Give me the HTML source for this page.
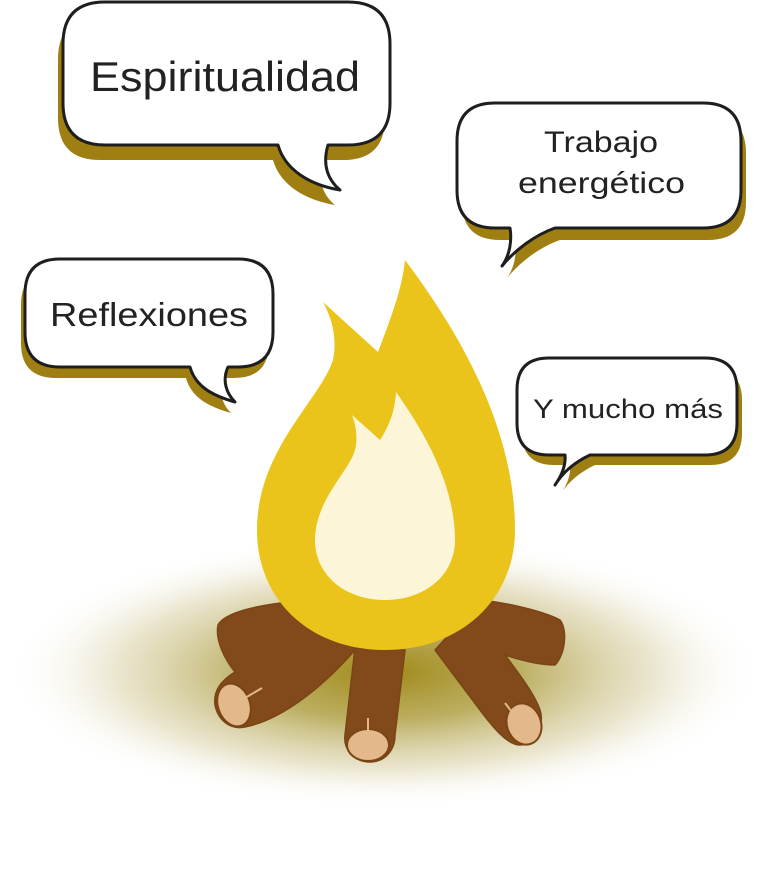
<!DOCTYPE html>
<html><head><meta charset="utf-8"><style>html,body{margin:0;padding:0;background:#fff;}svg{display:block;}</style></head><body>
<svg width="768" height="875" viewBox="0 0 768 875" xmlns="http://www.w3.org/2000/svg">
<defs>
<radialGradient id="glow" cx="385" cy="672" r="380" gradientUnits="userSpaceOnUse" gradientTransform="translate(385 672) scale(1 0.36) translate(-385 -672)">
<stop offset="0" stop-color="#a08a1a" stop-opacity="1"/>
<stop offset="0.35" stop-color="#b0a045" stop-opacity="0.85"/>
<stop offset="0.7" stop-color="#cfc590" stop-opacity="0.45"/>
<stop offset="1" stop-color="#ffffff" stop-opacity="0"/>
</radialGradient>
</defs>
<rect width="768" height="875" fill="#fff"/>
<ellipse cx="385" cy="672" rx="385" ry="140" fill="url(#glow)"/>

<!-- logs -->
<g fill="#824a1a" stroke="#7a4515" stroke-width="1.5">
<path d="M218,625 C225,612 260,605 290,602 L340,620 L355,650 C320,690 280,720 245,727 C230,730 218,720 215,705 C213,690 222,680 235,672 C225,660 215,640 218,625 Z"/>
<path d="M480,600 C510,603 545,612 560,620 C568,630 565,655 555,665 C540,665 520,660 505,655 C520,675 535,695 540,710 C545,725 535,745 520,745 C508,745 495,730 480,710 C465,690 450,670 435,650 Z"/>
<path d="M355,648 L405,650 L395,735 C395,750 385,762 370,762 C355,762 343,750 345,735 Z"/>
</g>
<g fill="#e3b88b" stroke="#7a4515" stroke-width="2">
<ellipse cx="234" cy="705" rx="16" ry="22" transform="rotate(-20 234 705)"/>
<ellipse cx="368" cy="745" rx="21" ry="16"/>
<ellipse cx="524" cy="724" rx="17" ry="21" transform="rotate(-20 524 724)"/>
</g>
<g stroke="#e3b88b" stroke-width="2">
<line x1="245" y1="698" x2="262" y2="688"/>
<line x1="368" y1="735" x2="368" y2="718"/>
<line x1="515" y1="716" x2="505" y2="703"/>
</g>

<!-- flame -->
<path d="M323,302 L378,352 C390,320 402,290 405,260 C450,320 515,420 515,530 C515,600 460,650 385,650 C310,650 257,600 257,530 C257,450 320,400 333,360 C337,340 333,320 323,302 Z" fill="#eac41a"/>
<path d="M352,415 L380,440 C390,425 395,410 396,392 C430,440 455,490 455,540 C455,575 425,600 385,600 C345,600 315,575 315,540 C315,500 350,470 355,450 C358,440 356,425 352,415 Z" fill="#fdf5d7"/>

<!-- bubbles -->
<g fill="#a07f12">
<path transform="translate(-5 15)" d="M105,2 H348 Q390,2 390,44 V103 Q390,145 348,145 H328 C322,165 328,180 340,190 C310,185 285,170 278,145 H105 Q63,145 63,103 V44 Q63,2 105,2 Z"/>
<path transform="translate(5 12)" d="M495,103 H703 Q741,103 741,141 V190 Q741,228 703,228 H555 C535,235 515,250 502,266 C510,255 512,240 510,228 H495 Q457,228 457,190 V141 Q457,103 495,103 Z"/>
<path transform="translate(-4 11)" d="M60,259 H238 Q273,259 273,294 V332 Q273,367 238,367 H228 C222,380 226,393 235,402 C210,395 195,385 190,367 H60 Q25,367 25,332 V294 Q25,259 60,259 Z"/>
<path transform="translate(5 10)" d="M549,358 H705 Q737,358 737,390 V423 Q737,455 705,455 H590 C575,462 563,472 555,485 C562,475 566,465 565,455 H549 Q517,455 517,423 V390 Q517,358 549,358 Z"/>
</g>
<g fill="#fff" stroke="#1e1e1e" stroke-width="3" stroke-linejoin="round">
<path d="M105,2 H348 Q390,2 390,44 V103 Q390,145 348,145 H328 C322,165 328,180 340,190 C310,185 285,170 278,145 H105 Q63,145 63,103 V44 Q63,2 105,2 Z"/>
<path d="M495,103 H703 Q741,103 741,141 V190 Q741,228 703,228 H555 C535,235 515,250 502,266 C510,255 512,240 510,228 H495 Q457,228 457,190 V141 Q457,103 495,103 Z"/>
<path d="M60,259 H238 Q273,259 273,294 V332 Q273,367 238,367 H228 C222,380 226,393 235,402 C210,395 195,385 190,367 H60 Q25,367 25,332 V294 Q25,259 60,259 Z"/>
<path d="M549,358 H705 Q737,358 737,390 V423 Q737,455 705,455 H590 C575,462 563,472 555,485 C562,475 566,465 565,455 H549 Q517,455 517,423 V390 Q517,358 549,358 Z"/>
</g>
<g font-family="'Liberation Sans', sans-serif" fill="#222">
<text x="90" y="91" font-size="42" textLength="270" lengthAdjust="spacingAndGlyphs">Espiritualidad</text>
<text x="544" y="152" font-size="30" textLength="114" lengthAdjust="spacingAndGlyphs">Trabajo</text>
<text x="518" y="193" font-size="30" textLength="167" lengthAdjust="spacingAndGlyphs">energético</text>
<text x="50" y="326" font-size="33" textLength="198" lengthAdjust="spacingAndGlyphs">Reflexiones</text>
<text x="533" y="418" font-size="27" textLength="190" lengthAdjust="spacingAndGlyphs">Y mucho más</text>
</g>
</svg>
</body></html>
